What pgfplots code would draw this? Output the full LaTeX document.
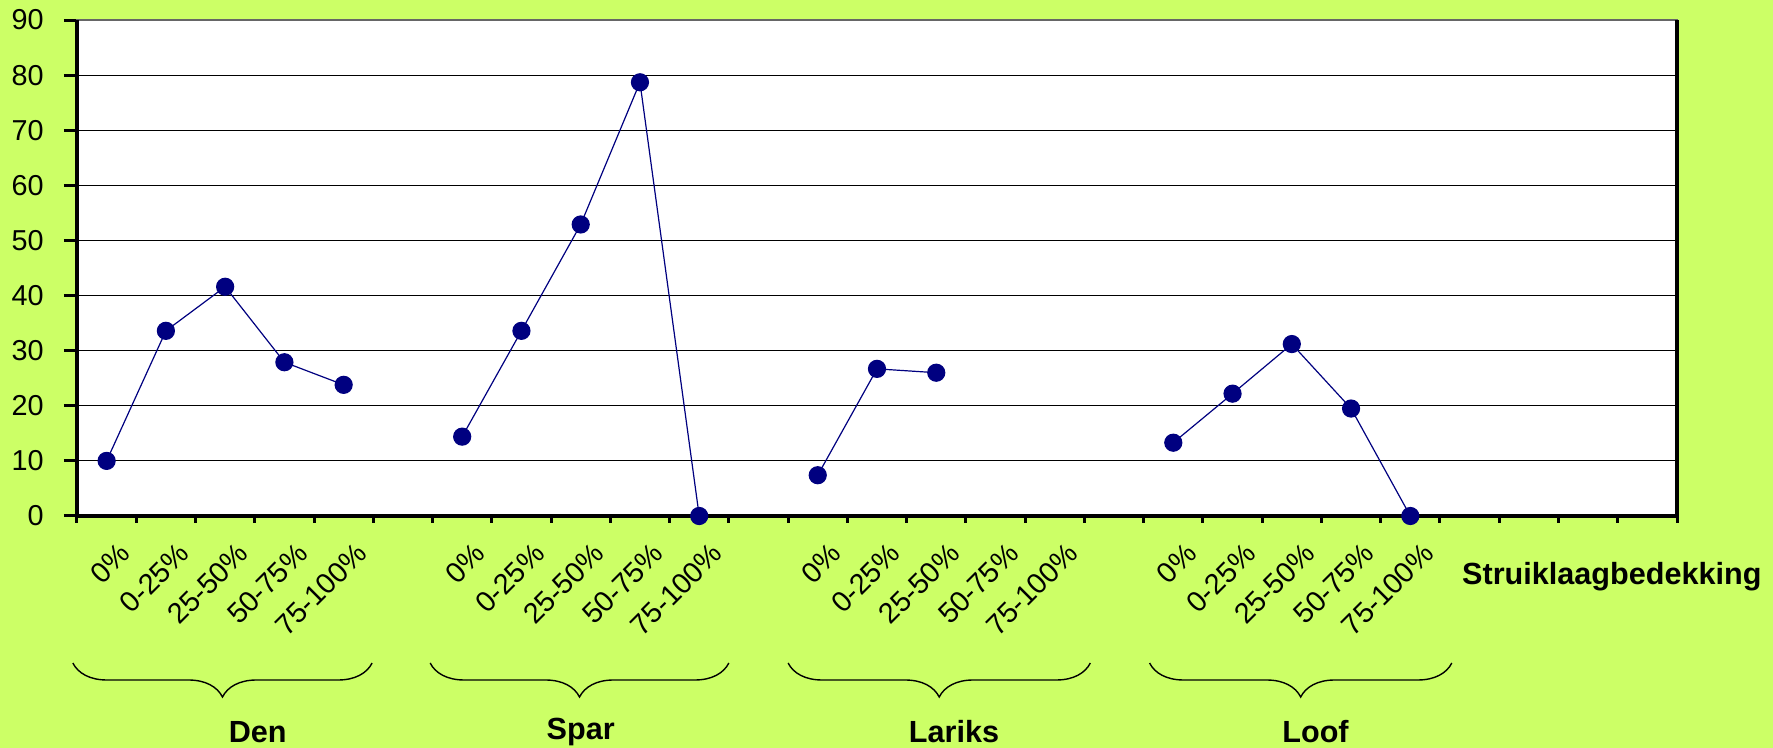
\documentclass[border=0pt]{standalone}
\usepackage{fontspec}
\setmainfont{Liberation Sans}
\usepackage{pgfplots}
\pgfplotsset{compat=1.18}
\usetikzlibrary{decorations.pathreplacing}
\definecolor{bg}{HTML}{CCFF66}
\definecolor{navy}{HTML}{000080}
\begin{document}
\begin{tikzpicture}
\path[use as bounding box, fill=bg] (-38.5pt,-116pt) rectangle (848pt,258pt);
\begin{axis}[
  at={(0,0)}, anchor=south west,
  width=800pt, height=248pt, scale only axis,
  xmin=-0.5, xmax=26.5, ymin=0, ymax=90,
  clip=false,
  axis background/.style={fill=white},
  axis line style={draw=gray!80!black, line width=0.8pt},
  ytick={0,10,...,90},
  xtick={0.18,1.18,...,22.18},
  xticklabels={{0\%},{0-25\%},{25-50\%},{50-75\%},{75-100\%},{},
               {0\%},{0-25\%},{25-50\%},{50-75\%},{75-100\%},{},
               {0\%},{0-25\%},{25-50\%},{50-75\%},{75-100\%},{},
               {0\%},{0-25\%},{25-50\%},{50-75\%},{75-100\%}},
  minor xtick={-0.5,0.5,...,26.5},
  major x tick style={draw=none},
  tick pos=left,
  tick align=outside,
  major tick length=6.5pt,
  minor tick length=3.5pt,
  tick style={black, line width=1.5pt},
  minor tick style={black, line width=1.5pt},
  ymajorgrids,
  grid style={black, line width=0.5pt},
  /pgf/number format/assume math mode=true,
  tick label style={font=\fontsize{14.4}{17}\selectfont},
  yticklabel style={anchor=east, inner sep=0pt, xshift=-10pt},
  xticklabel style={inner sep=0pt, yshift=-6pt, rotate=45, anchor=north east},
]
\draw[black, line width=1.6pt] (rel axis cs:0,1) -- (rel axis cs:0,0) -- (rel axis cs:1,0) -- (rel axis cs:1,1);
\addplot[navy, line width=0.6pt, mark=*, mark size=4.25pt, mark options={solid, fill=navy, draw=navy}] coordinates {(0,10.0) (1,33.6) (2,41.6) (3,27.9) (4,23.8)};
\addplot[navy, line width=0.6pt, mark=*, mark size=4.25pt, mark options={solid, fill=navy, draw=navy}] coordinates {(6,14.4) (7,33.6) (8,52.9) (9,78.7) (10,0)};
\addplot[navy, line width=0.6pt, mark=*, mark size=4.25pt, mark options={solid, fill=navy, draw=navy}] coordinates {(12,7.4) (13,26.7) (14,26.0)};
\addplot[navy, line width=0.6pt, mark=*, mark size=4.25pt, mark options={solid, fill=navy, draw=navy}] coordinates {(18,13.3) (19,22.2) (20,31.2) (21,19.5) (22,0)};
% braces and group labels
\draw[decorate, decoration={brace, mirror, amplitude=17pt}, line width=0.7pt]
  ([yshift=-73.5pt]axis cs:-0.57,0) -- ([yshift=-73.5pt]axis cs:4.48,0);
\draw[decorate, decoration={brace, mirror, amplitude=17pt}, line width=0.7pt]
  ([yshift=-73.5pt]axis cs:5.46,0) -- ([yshift=-73.5pt]axis cs:10.5,0);
\draw[decorate, decoration={brace, mirror, amplitude=17pt}, line width=0.7pt]
  ([yshift=-73.5pt]axis cs:11.5,0) -- ([yshift=-73.5pt]axis cs:16.6,0);
\draw[decorate, decoration={brace, mirror, amplitude=17pt}, line width=0.7pt]
  ([yshift=-73.5pt]axis cs:17.6,0) -- ([yshift=-73.5pt]axis cs:22.7,0);
\node[font=\fontsize{15.3}{18}\selectfont\bfseries] at ([yshift=-108pt]axis cs:2.55,0) {Den};
\node[font=\fontsize{15.3}{18}\selectfont\bfseries] at ([yshift=-108pt]axis cs:8.0,0) {Spar};
\node[font=\fontsize{15.3}{18}\selectfont\bfseries] at ([yshift=-108pt]axis cs:14.3,0) {Lariks};
\node[font=\fontsize{15.3}{18}\selectfont\bfseries] at ([yshift=-108pt]axis cs:20.4,0) {Loof};
\node[font=\fontsize{15.3}{18}\selectfont\bfseries] at ([yshift=-30.5pt]axis cs:25.4,0) {Struiklaagbedekking};
\end{axis}
\end{tikzpicture}
\end{document}
